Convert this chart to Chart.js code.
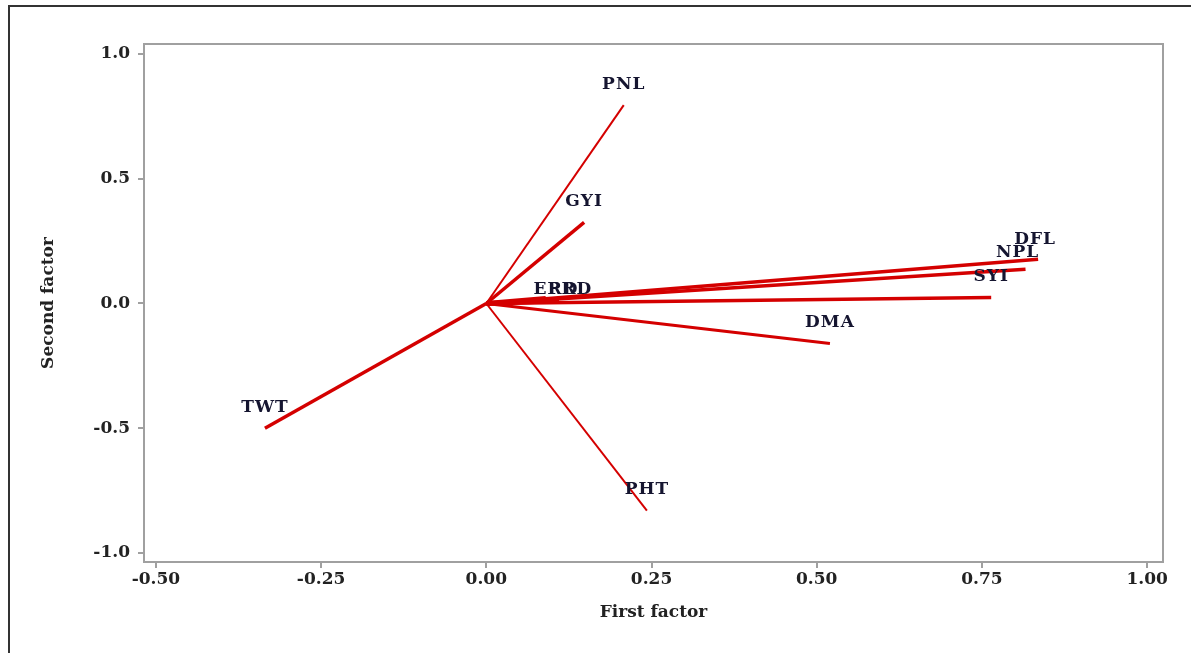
<!DOCTYPE html>
<html>
<head>
<meta charset="utf-8">
<script src="https://cdn.jsdelivr.net/npm/chart.js@4"></script>
<style>
  html, body { margin: 0; padding: 0; background: #fff; }
  #wrap { position: relative; width: 1191px; height: 653px; overflow: hidden; }
  #frame { position: absolute; left: 8px; top: 5px; width: 1300px; height: 800px;
           border-left: 2px solid #333; border-top: 2px solid #333; }
  canvas { position: absolute; left: 0; top: 0; }
</style>
</head>
<body>
<div id="wrap">
  <div id="frame"></div>
  <canvas id="grafica" width="1191" height="653"></canvas>
</div>
<script>
/* cargas de los factores */
const variables = ['PNL', 'GYI', 'TWT', 'PHT', 'DMA', 'SYI', 'NPL', 'DFL', 'ERD', 'PRD'];
const firstFactor = [0.208, 0.148, -0.335, 0.243, 0.520, 0.764, 0.816, 0.835, 0.090, 0.110];
const secondFactor = [0.795, 0.325, -0.500, -0.830, -0.160, 0.024, 0.137, 0.177, 0.020, 0.012];
const lineWidths = [2, 3.5, 3.5, 2, 3, 3.5, 3.5, 3.5, 5, 5];
const xTicks = [-0.5, -0.25, 0, 0.25, 0.5, 0.75, 1.0];
const yTicks = [-1.0, -0.5, 0, 0.5, 1.0];

const red = '#d40000';
const serif = "'DejaVu Serif', 'Liberation Serif', serif";

const datasets = variables.map((v, i) => ({
  label: v,
  data: [{ x: 0, y: 0 }, { x: firstFactor[i], y: secondFactor[i] }],
  showLine: true,
  borderColor: red,
  backgroundColor: red,
  borderWidth: lineWidths[i],
  pointRadius: 0
}));

// etiquetas encima del extremo de cada vector
const etiquetas = {
  id: 'etiquetas',
  afterDatasetsDraw(chart) {
    const c = chart.ctx;
    const xs = chart.scales.x, ys = chart.scales.y;
    c.save();
    c.font = "bold 17px " + serif;
    c.letterSpacing = '1px';
    c.fillStyle = '#151530';
    c.textAlign = 'center';
    c.textBaseline = 'middle';
    variables.forEach((v, i) => {
      let px = xs.getPixelForValue(firstFactor[i]);
      let py = ys.getPixelForValue(secondFactor[i]) - 21;
      if (v === 'ERD') { px = 556; py = 290; }
      if (v === 'PRD') { px = 570; py = 290; }
      if (v === 'DFL') { px -= 3; py += 1; }
      if (v === 'NPL') { px -= 8; py += 4; }
      c.fillText(v, px, py);
    });
    c.restore();
  }
};

// marco del area de trazado
const marco = {
  id: 'marco',
  afterDraw(chart) {
    const a = chart.chartArea, c = chart.ctx;
    c.save();
    c.strokeStyle = '#a0a0a0';
    c.lineWidth = 2;
    c.strokeRect(a.left, a.top, a.right - a.left, a.bottom - a.top);
    c.restore();
  }
};

new Chart(document.getElementById('grafica').getContext('2d'), {
  type: 'scatter',
  data: { datasets },
  options: {
    responsive: false,
    animation: false,
    layout: { padding: { left: 38, top: 44, right: 28, bottom: 30 } },
    plugins: { legend: { display: false }, tooltip: { enabled: false } },
    scales: {
      x: {
        type: 'linear',
        min: -0.518,
        max: 1.024,
        afterBuildTicks: s => { s.ticks = xTicks.map(v => ({ value: v })); },
        afterFit: s => { s.height = 61; },
        ticks: {
          color: '#222',
          font: { family: serif, size: 17, weight: 'bold' },
          padding: 1,
          maxRotation: 0,
          callback: v => v.toFixed(2)
        },
        grid: { drawOnChartArea: false, drawTicks: true, tickLength: 6, color: '#a0a0a0', lineWidth: 2 },
        border: { display: true, color: '#a0a0a0', width: 2 },
        title: {
          display: true,
          text: 'First factor',
          color: '#222',
          font: { family: serif, size: 17, weight: 'bold' },
          padding: { top: 2, bottom: 0 }
        }
      },
      y: {
        type: 'linear',
        min: -1.036,
        max: 1.04,
        afterBuildTicks: s => { s.ticks = yTicks.map(v => ({ value: v })); },
        afterFit: s => { s.width = 106; },
        ticks: {
          color: '#222',
          font: { family: serif, size: 17, weight: 'bold' },
          padding: 8,
          callback: v => v.toFixed(1)
        },
        grid: { drawOnChartArea: false, drawTicks: true, tickLength: 6, color: '#a0a0a0', lineWidth: 2 },
        border: { display: true, color: '#a0a0a0', width: 2 },
        title: {
          display: true,
          text: 'Second factor',
          color: '#222',
          font: { family: serif, size: 17, weight: 'bold' },
          padding: { top: 0, bottom: 0 }
        }
      }
    }
  },
  plugins: [etiquetas, marco]
});
</script>
</body>
</html>
